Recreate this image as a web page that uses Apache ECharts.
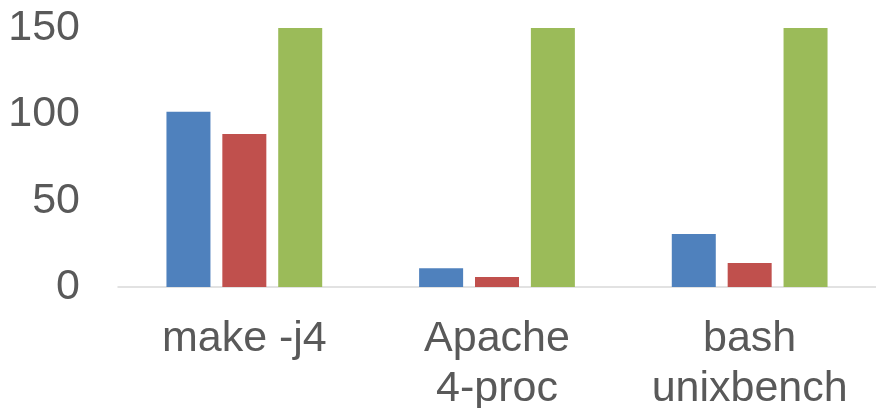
<!DOCTYPE html>
<html>
<head>
<meta charset="utf-8">
<script src="https://cdn.jsdelivr.net/npm/echarts@6/dist/echarts.min.js"></script>
<style>
  html, body { margin: 0; padding: 0; background: #ffffff; }
  #chart { width: 876px; height: 408px; }
</style>
</head>
<body>
<div id="chart"></div>
<script>
// Benchmark categories and the three series plotted for each
const categories = ['make -j4', 'Apache\n4-proc', 'bash\nunixbench'];
const seriesA = [101.5, 10.8, 30.7];
const seriesB = [88.6, 5.8, 13.9];
const seriesC = [150, 150, 150];
const yTicks = { min: 0, max: 150, interval: 50 };

const colors = ['#4f81bd', '#c0504d', '#9bbb59'];
const labelColor = '#595959';
const fontFamily = '"Liberation Sans", Arial, sans-serif';

const chart = echarts.init(document.getElementById('chart'), null, { renderer: 'canvas' });

function bar(name, data, color) {
  return {
    name: name,
    type: 'bar',
    data: data,
    barWidth: 44,
    barGap: '27%',
    itemStyle: { color: color },
    animation: false
  };
}

chart.setOption({
  animation: false,
  grid: {
    left: 118, right: 0, top: 28, bottom: 121,
    containLabel: false,
    outerBoundsMode: 'none'
  },
  xAxis: {
    type: 'category',
    data: categories,
    axisLine: { show: true, lineStyle: { color: '#d9d9d9', width: 1.5 } },
    axisTick: { show: false },
    axisLabel: {
      color: labelColor,
      fontSize: 43,
      fontFamily: fontFamily,
      lineHeight: 50,
      margin: 27,
      interval: 0
    },
    splitLine: { show: false }
  },
  yAxis: {
    type: 'value',
    min: yTicks.min,
    max: yTicks.max,
    interval: yTicks.interval,
    axisLine: { show: false },
    axisTick: { show: false },
    splitLine: { show: false },
    axisLabel: {
      color: labelColor,
      fontSize: 43,
      fontFamily: fontFamily,
      margin: 38
    }
  },
  series: [
    bar('A', seriesA, colors[0]),
    bar('B', seriesB, colors[1]),
    bar('C', seriesC, colors[2])
  ]
});
</script>
</body>
</html>
